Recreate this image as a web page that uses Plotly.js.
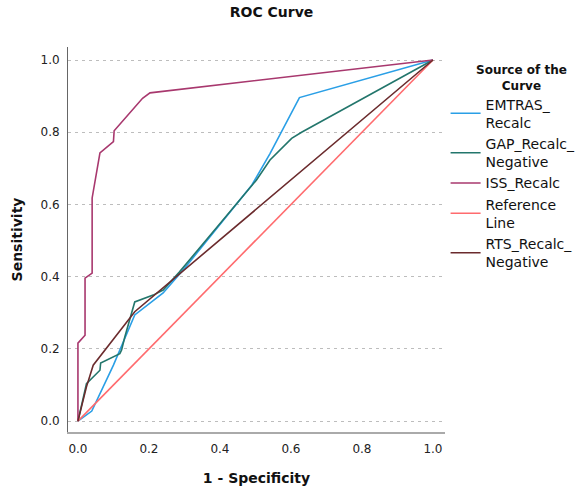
<!DOCTYPE html>
<html>
<head>
<meta charset="utf-8">
<script src="https://cdn.plot.ly/plotly-3.0.1.min.js"></script>
<style>html,body{margin:0;padding:0;background:#fff;}#chart{width:584px;height:495px;}</style>
</head>
<body>
<div id="chart"></div>
<script>
// Series names (legend labels)
const seriesNames = ["EMTRAS_<br>Recalc", "GAP_Recalc_<br>Negative", "ISS_Recalc", "Reference<br>Line", "RTS_Recalc_<br>Negative"];
const legendTitle = "Source of the<br>Curve";

// 1 - Specificity (x) and Sensitivity (y) for each curve
const emtrasX = [0, 0.039, 0.10, 0.118, 0.142, 0.16, 0.24, 0.30, 0.49, 0.541, 0.624, 1];
const emtrasY = [0, 0.028, 0.155, 0.197, 0.252, 0.294, 0.355, 0.423, 0.654, 0.741, 0.896, 1];

const gapX = [0, 0.024, 0.062, 0.064, 0.118, 0.123, 0.132, 0.16, 0.212, 0.24, 0.285, 0.503, 0.541, 0.602, 0.63, 1];
const gapY = [0, 0.104, 0.141, 0.161, 0.187, 0.197, 0.233, 0.33, 0.349, 0.363, 0.412, 0.668, 0.723, 0.783, 0.80, 1];

const issX = [0, 0, 0.02, 0.02, 0.04, 0.04, 0.062, 0.10, 0.102, 0.182, 0.203, 1];
const issY = [0, 0.216, 0.238, 0.396, 0.41, 0.618, 0.743, 0.774, 0.804, 0.894, 0.909, 1];

const refX = [0, 1];
const refY = [0, 1];

const rtsX = [0, 0.024, 0.043, 0.16, 1];
const rtsY = [0, 0.095, 0.155, 0.303, 1];

const tickVals = [0, 0.2, 0.4, 0.6, 0.8, 1.0];
const tickText = ["0.0", "0.2", "0.4", "0.6", "0.8", "1.0"];

const colors = ["#2a9fe6", "#23766c", "#a8386e", "#ff6b6e", "#6b2b2d"];
const xs = [emtrasX, gapX, issX, refX, rtsX];
const ys = [emtrasY, gapY, issY, refY, rtsY];

const traces = seriesNames.map((n, i) => ({
  type: "scatter", mode: "lines", name: n,
  x: xs[i], y: ys[i],
  line: {color: colors[i], width: 1.6}
}));

const FONT = "DejaVu Sans, sans-serif";

const layout = {
  width: 584, height: 495,
  margin: {l: 68, r: 139, t: 47, b: 63},
  paper_bgcolor: "#fff", plot_bgcolor: "#fff",
  font: {family: FONT, color: "#222", size: 12},
  title: {text: "<b>ROC Curve</b>", x: 0.465, xanchor: "center", y: 0.985, yanchor: "top",
          font: {family: FONT, size: 14, color: "#111"}},
  xaxis: {
    range: [-0.028, 1.034], tickvals: tickVals, ticktext: tickText,
    showgrid: false, zeroline: false, showline: true, linecolor: "#aaa", linewidth: 2,
    ticks: "", ticklen: 0, ticklabelstandoff: 5, tickfont: {size: 12, color: "#222"},
    title: {text: "<b>1 - Specificity</b>", font: {size: 14, color: "#111"}, standoff: 18}
  },
  yaxis: {
    range: [-0.030, 1.036], tickvals: tickVals, ticktext: tickText,
    showgrid: true, gridcolor: "#bdbdbd", griddash: "3px,4px", gridwidth: 1,
    zeroline: false, showline: true, linecolor: "#666", linewidth: 1,
    ticks: "", ticklabelstandoff: 5, tickfont: {size: 12, color: "#222"},
    title: {text: "<b>Sensitivity</b>", font: {size: 14, color: "#111"}, standoff: 14}
  },
  annotations: [{
    text: "<b>" + legendTitle + "</b>", xref: "paper", yref: "paper",
    x: 1.204, y: 0.963, xanchor: "center", yanchor: "top", align: "center",
    showarrow: false, font: {size: 12, color: "#111"}
  }],
  showlegend: true,
  legend: {
    xref: "container", yref: "container", x: 0.763, xanchor: "left", y: 0.821, yanchor: "top",
    font: {size: 14, color: "#111"}, tracegroupgap: 0, itemwidth: 30,
    bgcolor: "rgba(0,0,0,0)"
  },
  hovermode: false
};

Plotly.newPlot("chart", traces, layout, {staticPlot: true});
</script>
</body>
</html>
